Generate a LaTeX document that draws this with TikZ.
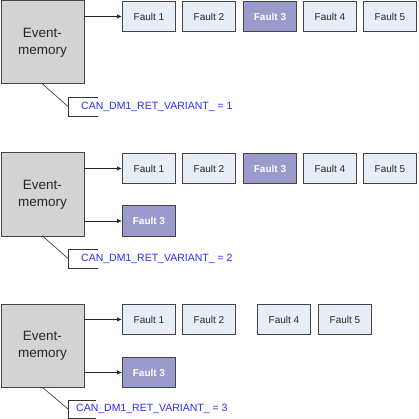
\documentclass[tikz,border=0pt]{standalone}
\usepackage{fontspec}
\setmainfont{Liberation Sans}
\usetikzlibrary{arrows.meta}
\definecolor{faultfill}{HTML}{E8EEF8}
\definecolor{hotfill}{HTML}{9A9ACC}
\definecolor{boxline}{HTML}{454545}
\definecolor{memfill}{HTML}{D3D3D3}
\definecolor{callblue}{HTML}{2B2BFF}
\tikzset{
  fault/.style={draw=boxline, fill=faultfill, line width=0.9pt, minimum width=53pt, minimum height=30pt, inner sep=0pt, anchor=north west, font=\fontsize{10}{12}\selectfont, text=black!85},
  hot/.style={fault, fill=hotfill, text=white, font=\fontsize{10}{12}\selectfont\bfseries},
  mem/.style={draw=boxline, fill=memfill, line width=0.9pt, minimum width=83pt, minimum height=83pt, inner sep=0pt, anchor=north west, align=center, font=\fontsize{13.5}{17}\selectfont, text=black!85},
  link/.style={draw=black!85, line width=0.8pt, -{Latex[length=5pt,width=4.5pt]}},
  calltext/.style={anchor=west, inner sep=0pt, text=callblue, font=\fontsize{10.5}{12}\selectfont},
  callline/.style={draw=black!80, line width=0.6pt}
}
\begin{document}
\begin{tikzpicture}[x=1pt,y=-1pt]
\useasboundingbox (0,0) rectangle (418,419);
% Panel 1
\node[mem] (m1) at (0.5,0.5) {Event-\\memory};
\node[fault] (a1) at (122,1) {Fault 1};
\node[fault] (a2) at (182,1) {Fault 2};
\node[hot]   (a3) at (243,1) {Fault 3};
\node[fault] (a4) at (303,1) {Fault 4};
\node[fault] (a5) at (363,1) {Fault 5};
\draw[link] (m1.east |- a1.west) -- (a1.west);
\coordinate (c1) at (42,83.5);
\coordinate (b1) at (68,106.5);
\draw[callline] (c1) -- (b1);
\draw[callline] (98,97) -- (68,97) -- (68,116) -- (98,116);
\node[calltext] (t1) at (81,106.5) {CAN\_DM1\_RET\_VARIANT\_ = 1};
% Panel 2
\node[mem] (m2) at (0.5,152.5) {Event-\\memory};
\node[fault] (d1) at (122,153) {Fault 1};
\node[fault] (d2) at (182,153) {Fault 2};
\node[hot]   (d3) at (243,153) {Fault 3};
\node[fault] (d4) at (303,153) {Fault 4};
\node[fault] (d5) at (363,153) {Fault 5};
\node[hot]   (e3) at (122,205.5) {Fault 3};
\draw[link] (m2.east |- d1.west) -- (d1.west);
\draw[link] (m2.east |- e3.west) -- (e3.west);
\coordinate (c2) at (42,235.5);
\coordinate (b2) at (68,258.5);
\draw[callline] (c2) -- (b2);
\draw[callline] (98,249) -- (68,249) -- (68,268) -- (98,268);
\node[calltext] (t2) at (81,258.5) {CAN\_DM1\_RET\_VARIANT\_ = 2};
% Panel 3
\node[mem] (m3) at (0.5,303.5) {Event-\\memory};
\node[fault] (g1) at (122,304) {Fault 1};
\node[fault] (g2) at (182,304) {Fault 2};
\node[fault] (g4) at (257,304) {Fault 4};
\node[fault] (g5) at (318,304) {Fault 5};
\node[hot]   (h3) at (122,357) {Fault 3};
\draw[link] (m3.east |- g1.west) -- (g1.west);
\draw[link] (m3.east |- h3.west) -- (h3.west);
\coordinate (c3) at (42,387);
\coordinate (b3) at (68,409);
\draw[callline] (c3) -- (b3);
\draw[callline] (96,400) -- (68,400) -- (68,418.5) -- (96,418.5);
\node[calltext] (t3) at (76,409) {CAN\_DM1\_RET\_VARIANT\_ = 3};
\end{tikzpicture}
\end{document}
